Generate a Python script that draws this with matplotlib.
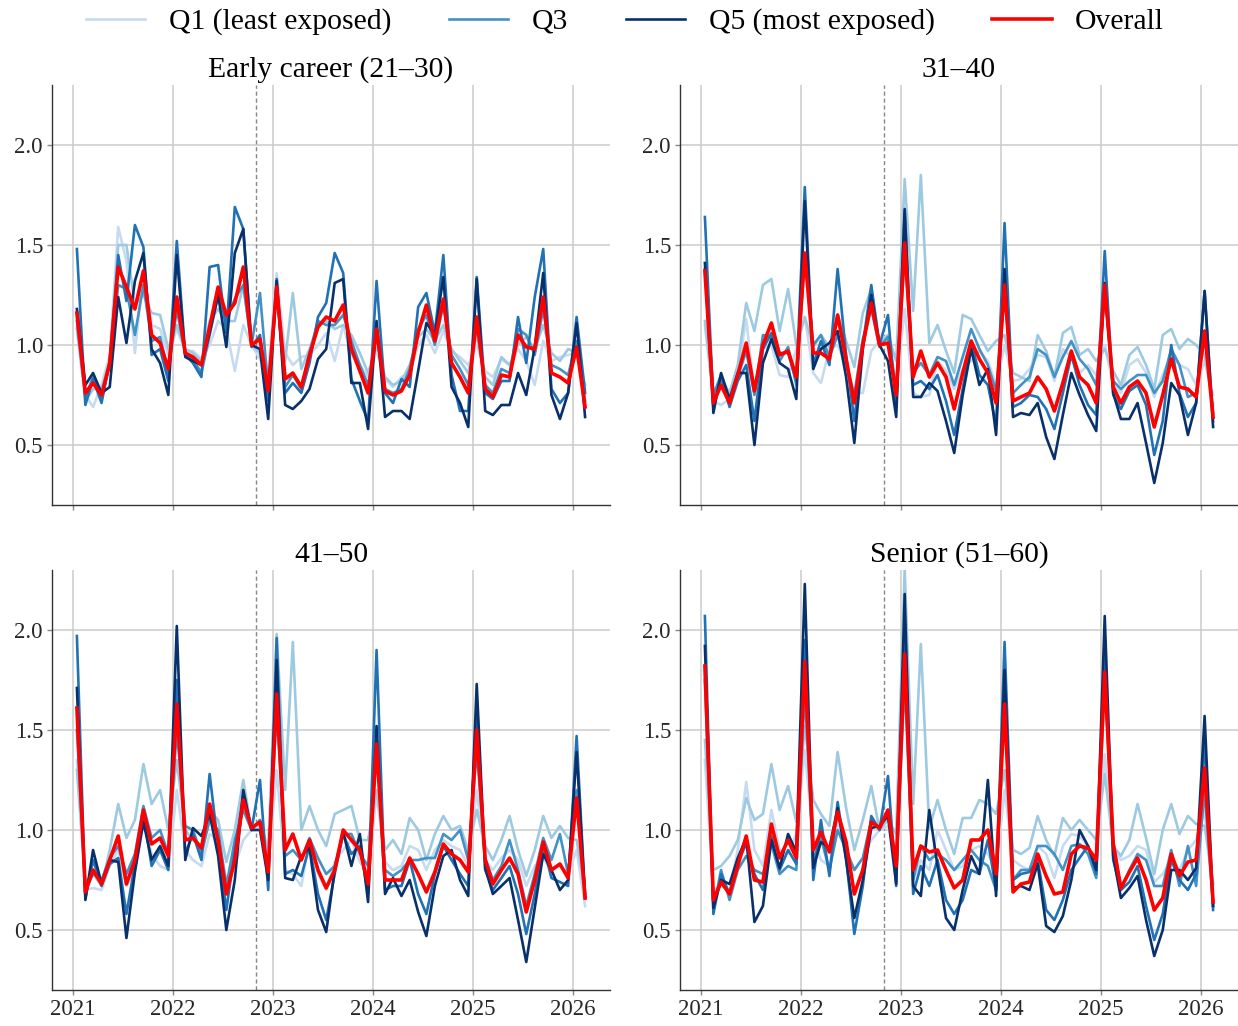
import numpy as np
import pandas as pd
import matplotlib
matplotlib.use("Agg")
import matplotlib.pyplot as plt
import matplotlib.dates as mdates

plt.rcParams['font.family'] = ['Liberation Serif', 'DejaVu Serif']

dates = pd.date_range("2021-01-01", periods=62, freq="MS") + pd.Timedelta(days=14)
chatgpt_date = pd.Timestamp("2022-11-01")

panel_titles = ["Early career (21\u201330)", "31\u201340", "41\u201350", "Senior (51\u201360)"]
quintile_labels = ["Q1 (least exposed)", "Q2", "Q3", "Q4", "Q5 (most exposed)"]
quintile_colors = ["#c6dbef", "#9ecae1", "#4292c6", "#2171b5", "#08306b"]
legend_quintiles = [0, 2, 4]

# ---------------- Panel 1: Early career (21-30) ----------------
p1_q1 = [1.09,0.75,0.69,0.80,0.95,1.59,1.42,0.96,1.38,1.10,1.08,0.95,1.08,0.97,0.97,0.93,1.00,1.12,1.08,0.87,1.10,1.00,0.93,0.86,1.36,0.96,0.90,0.94,0.95,1.00,1.06,
         0.92,1.10,0.95,0.90,0.84,0.97,0.83,0.79,0.84,0.86,1.00,1.05,0.96,1.07,0.97,0.94,0.90,1.00,0.87,0.84,0.93,0.90,0.98,0.92,0.80,1.02,0.92,0.94,0.95,0.96,0.78]
p1_q2 = [1.08,0.72,0.78,0.78,0.92,1.50,1.50,1.20,1.25,1.16,1.15,0.98,1.10,0.98,0.96,0.92,1.12,1.18,1.12,1.12,1.30,1.00,0.96,0.84,1.26,0.92,1.26,0.88,0.98,1.10,1.12,
         1.08,1.10,1.05,0.96,0.86,1.00,0.84,0.80,0.82,0.90,1.04,1.08,1.02,1.10,0.98,0.92,0.86,1.05,0.84,0.80,0.94,0.90,1.00,1.04,0.98,1.10,0.96,0.92,0.98,0.96,0.80]
p1_q3 = [1.12,0.74,0.84,0.73,0.90,1.30,1.28,1.05,1.30,1.02,1.04,0.86,1.18,0.95,0.93,0.86,1.05,1.25,1.12,1.23,1.30,1.00,1.26,0.78,1.27,0.79,0.85,0.78,0.96,1.12,1.10,
         1.10,1.15,1.02,0.90,0.80,1.05,0.78,0.76,0.78,0.88,1.08,1.15,1.00,1.20,0.95,0.88,0.80,1.10,0.80,0.76,0.88,0.86,1.08,1.05,0.95,1.18,0.90,0.88,0.85,1.02,0.72]
p1_q4 = [1.48,0.70,0.83,0.71,0.92,1.45,1.22,1.60,1.49,0.95,0.98,0.82,1.52,0.95,0.91,0.84,1.39,1.40,1.06,1.69,1.58,0.99,1.05,0.72,1.33,0.76,0.81,0.76,0.91,1.14,1.21,
         1.46,1.36,0.83,0.72,0.62,1.32,0.76,0.71,0.83,0.79,1.19,1.26,1.06,1.45,0.85,0.67,0.67,1.34,0.76,0.73,0.82,0.82,1.14,0.91,1.24,1.48,0.78,0.71,0.76,1.14,0.76]
p1_q5 = [1.18,0.80,0.86,0.76,0.79,1.24,1.01,1.32,1.46,0.98,0.91,0.75,1.45,0.94,0.92,0.90,1.06,1.25,0.99,1.46,1.58,1.00,0.98,0.63,1.32,0.70,0.68,0.72,0.78,0.93,0.98,
         1.31,1.33,0.81,0.81,0.58,1.12,0.64,0.67,0.67,0.63,0.87,1.11,1.05,1.34,0.79,0.71,0.59,1.33,0.67,0.65,0.70,0.70,0.86,0.75,0.99,1.36,0.75,0.63,0.76,1.11,0.64]
p1_all = [1.16,0.76,0.81,0.75,0.91,1.39,1.29,1.18,1.37,1.05,1.01,0.88,1.24,0.96,0.94,0.90,1.09,1.29,1.15,1.21,1.39,1.00,1.03,0.77,1.29,0.83,0.86,0.79,0.95,1.09,1.14,
          1.12,1.20,0.98,0.87,0.76,1.08,0.77,0.75,0.77,0.85,1.06,1.20,1.02,1.23,0.91,0.84,0.76,1.14,0.78,0.74,0.85,0.84,1.05,0.99,0.98,1.24,0.86,0.84,0.81,0.99,0.69]

# ---------------- Panel 2: 31-40 ----------------
p2_q1 = [1.10,0.72,0.70,0.73,0.86,1.13,0.76,0.98,1.00,0.85,0.84,0.98,1.14,0.86,0.81,0.98,1.00,0.90,0.76,0.76,0.97,1.02,1.05,0.80,1.18,0.76,0.74,0.75,0.92,0.87,0.78,
         0.88,0.92,0.97,0.92,0.80,1.00,0.82,0.83,0.88,0.95,0.94,0.82,0.98,0.94,0.86,0.90,0.85,1.00,0.80,0.76,0.90,0.93,0.86,0.74,0.85,0.95,0.90,0.88,0.80,0.92,0.75]
p2_q2 = [1.12,0.76,0.83,0.76,0.90,1.21,1.07,1.30,1.33,1.07,1.28,1.00,1.14,0.99,1.05,0.99,1.15,1.02,0.89,1.16,1.28,1.00,1.05,0.92,1.83,1.17,1.85,1.01,1.10,0.97,0.86,
         1.15,1.13,1.05,0.97,1.02,1.05,0.86,0.84,0.82,1.05,0.97,0.84,1.06,1.09,0.95,0.98,0.92,0.98,0.87,0.80,0.95,0.99,0.90,0.78,1.05,1.08,0.98,1.03,1.00,0.95,0.70]
p2_q3 = [1.38,0.75,0.85,0.72,0.84,0.97,0.75,1.05,1.04,0.92,0.99,0.80,1.44,1.00,1.05,0.94,1.05,0.90,0.75,1.03,1.18,0.99,1.04,0.78,1.45,0.86,0.91,0.85,0.94,0.92,0.80,
         0.94,1.08,0.98,0.90,0.77,1.25,0.76,0.80,0.84,0.98,0.95,0.84,0.94,1.02,0.93,0.88,0.80,1.25,0.82,0.78,0.82,0.85,0.85,0.76,0.82,0.98,0.90,0.74,0.76,1.05,0.66]
p2_q4 = [1.64,0.70,0.84,0.69,0.82,0.90,0.62,0.98,1.06,0.96,0.96,0.82,1.79,0.90,1.02,0.90,1.38,0.95,0.62,1.00,1.30,1.00,1.15,0.69,1.66,0.80,0.82,0.78,0.85,0.72,0.55,
         0.78,1.02,0.85,0.80,0.60,1.61,0.69,0.71,0.75,0.74,0.68,0.58,0.76,0.95,0.80,0.70,0.65,1.47,0.75,0.68,0.77,0.80,0.70,0.45,0.62,1.00,0.76,0.64,0.71,1.27,0.62]
p2_q5 = [1.41,0.66,0.86,0.73,0.86,0.86,0.50,0.91,1.03,0.91,0.88,0.73,1.72,0.88,0.98,1.01,1.07,0.84,0.51,0.98,1.25,1.00,0.92,0.64,1.68,0.74,0.74,0.81,0.77,0.62,0.46,
         0.75,0.98,0.80,0.88,0.55,1.38,0.64,0.66,0.65,0.71,0.54,0.43,0.65,0.86,0.75,0.65,0.57,1.31,0.76,0.63,0.63,0.71,0.51,0.31,0.51,0.81,0.75,0.55,0.71,1.27,0.59]
p2_all = [1.37,0.71,0.80,0.71,0.85,1.01,0.77,1.00,1.11,0.95,0.97,0.84,1.46,0.96,0.96,0.93,1.15,0.93,0.71,1.00,1.21,1.00,1.01,0.75,1.51,0.84,0.97,0.84,0.91,0.84,0.68,
          0.86,1.02,0.93,0.86,0.71,1.30,0.72,0.74,0.76,0.84,0.78,0.67,0.81,0.97,0.84,0.80,0.71,1.30,0.79,0.71,0.79,0.82,0.76,0.59,0.75,0.93,0.79,0.78,0.74,1.07,0.64]

# ---------------- Panel 3: 41-50 ----------------
p3_q1 = [1.35,0.70,0.71,0.70,0.82,0.90,0.72,0.80,1.05,0.88,0.82,0.80,1.20,0.90,0.85,0.82,0.98,0.95,0.75,0.82,0.95,1.00,1.02,0.82,1.30,0.80,0.78,0.72,0.95,0.78,0.70,
         0.84,0.90,0.95,0.84,0.78,1.18,0.84,0.80,0.82,0.92,0.90,0.80,0.90,0.95,0.92,0.90,0.82,1.20,0.85,0.80,0.86,0.90,0.85,0.72,0.82,0.86,0.80,0.82,0.78,0.90,0.62]
p3_q2 = [1.30,0.74,0.78,0.72,0.90,1.13,0.96,1.05,1.33,1.13,1.20,1.00,1.35,1.00,0.95,0.92,1.10,1.05,0.84,1.00,1.25,1.00,1.05,0.90,1.98,1.20,1.94,1.00,1.12,1.00,0.92,
         1.08,1.10,1.12,0.95,0.95,1.20,0.90,0.95,0.88,1.06,1.00,0.85,0.98,1.07,1.00,1.02,0.90,1.10,0.92,0.85,0.95,1.07,0.90,0.77,0.90,1.07,0.96,1.02,0.96,0.95,0.70]
p3_q3 = [1.50,0.70,0.78,0.75,0.86,0.92,0.78,0.88,1.12,0.96,1.00,0.88,1.50,1.02,1.00,0.88,1.05,1.00,0.72,0.95,1.10,1.00,1.05,0.80,1.60,0.87,0.90,0.85,0.96,0.86,0.78,
         0.82,0.98,0.98,0.88,0.82,1.40,0.80,0.77,0.80,0.85,0.85,0.86,0.86,0.98,0.95,1.00,0.85,1.40,0.86,0.75,0.82,0.95,0.80,0.62,0.78,0.96,0.85,0.98,0.78,1.20,0.68]
p3_q4 = [1.97,0.66,0.85,0.72,0.83,0.86,0.58,0.83,1.08,0.82,0.90,0.80,1.75,0.88,0.98,0.85,1.28,0.92,0.60,0.90,1.18,1.00,1.25,0.70,1.96,0.78,0.80,0.77,0.92,0.68,0.55,
         0.78,0.98,0.88,0.92,0.68,1.90,0.70,0.72,0.72,0.85,0.68,0.58,0.78,0.92,0.85,0.78,0.72,1.62,0.80,0.70,0.76,0.82,0.68,0.48,0.68,0.92,0.76,0.74,0.72,1.47,0.66]
p3_q5 = [1.71,0.65,0.90,0.73,0.85,0.84,0.46,0.79,1.04,0.85,0.92,0.82,2.02,0.85,1.01,0.97,1.08,0.87,0.50,0.75,1.20,1.00,1.00,0.75,1.85,0.76,0.75,0.87,0.91,0.60,0.49,
         0.80,0.99,0.82,0.98,0.64,1.52,0.68,0.76,0.67,0.75,0.59,0.47,0.72,0.87,0.90,0.75,0.67,1.73,0.81,0.68,0.72,0.76,0.55,0.34,0.61,0.88,0.80,0.70,0.75,1.39,0.66]
p3_all = [1.61,0.69,0.80,0.73,0.85,0.97,0.73,0.85,1.10,0.93,0.96,0.87,1.63,0.95,0.96,0.91,1.13,0.95,0.68,0.85,1.15,1.01,1.04,0.79,1.68,0.90,0.98,0.85,0.95,0.80,0.71,
          0.80,1.00,0.95,0.90,0.73,1.43,0.75,0.75,0.75,0.86,0.78,0.69,0.79,0.93,0.88,0.85,0.79,1.50,0.85,0.73,0.80,0.86,0.78,0.59,0.75,0.94,0.80,0.83,0.76,1.16,0.66]

# ---------------- Panel 4: Senior (51-60) ----------------
p4_q1 = [1.35,0.70,0.72,0.70,0.90,1.24,0.90,0.82,1.10,0.90,0.88,0.98,1.40,0.95,0.85,0.82,1.05,0.90,0.80,0.86,0.95,1.00,1.02,0.88,1.80,0.75,0.85,0.80,1.00,0.90,0.80,
         0.82,0.90,0.92,0.88,0.80,1.20,0.85,0.82,0.80,0.92,0.88,0.76,0.92,0.98,0.97,0.92,0.82,1.38,0.90,0.85,0.87,0.92,0.90,0.74,0.78,0.85,0.80,0.90,0.95,1.10,0.65]
p4_q2 = [1.45,0.80,0.82,0.87,0.95,1.16,1.05,1.08,1.33,1.10,1.22,1.04,1.52,1.15,1.08,1.02,1.39,1.11,0.90,1.05,1.22,1.00,1.05,0.98,2.30,1.13,1.93,1.01,1.15,1.00,0.88,
         1.06,1.06,1.15,1.13,1.08,1.30,0.90,0.88,0.91,1.07,0.95,0.87,1.06,1.00,1.05,1.00,0.95,1.28,0.92,0.87,0.95,1.13,0.96,0.78,1.00,1.13,0.98,1.07,1.03,1.02,0.73]
p4_q3 = [1.75,0.60,0.80,0.65,0.80,0.87,0.80,0.78,0.93,0.78,0.82,0.80,1.70,0.85,0.96,0.80,1.00,0.90,0.80,0.86,1.05,1.00,1.10,0.78,1.75,0.75,0.92,0.85,0.88,0.85,0.80,
         0.85,0.90,0.85,0.82,0.70,1.70,0.75,0.80,0.80,0.92,0.92,0.88,0.80,0.92,0.93,0.88,0.76,1.75,0.95,0.70,0.80,0.88,0.85,0.72,0.72,0.90,0.72,0.92,0.72,1.20,0.62]
p4_q4 = [2.07,0.58,0.78,0.68,0.84,0.93,0.78,0.70,0.97,0.80,0.90,0.83,1.95,0.75,1.05,0.77,1.14,0.86,0.48,0.72,1.07,1.00,1.27,0.72,1.95,0.68,0.82,0.72,0.85,0.65,0.58,
         0.65,0.80,0.78,0.95,0.70,1.94,0.75,0.78,0.79,0.85,0.60,0.55,0.65,0.80,0.86,0.92,0.78,1.92,0.85,0.70,0.74,0.82,0.62,0.45,0.58,0.85,0.75,0.70,0.78,1.45,0.60]
p4_q5 = [1.92,0.61,0.75,0.73,0.86,0.96,0.54,0.62,0.95,0.81,0.98,0.89,2.23,0.81,0.94,0.91,1.11,0.85,0.56,0.75,1.01,1.02,1.07,0.73,2.18,0.72,0.67,1.10,0.82,0.56,0.50,
         0.70,0.87,0.78,1.25,0.67,1.80,0.71,0.72,0.70,0.83,0.52,0.49,0.57,0.75,1.00,0.92,0.80,2.07,0.87,0.66,0.71,0.77,0.55,0.37,0.50,0.80,0.80,0.75,0.81,1.57,0.62]
p4_all = [1.82,0.65,0.74,0.68,0.82,0.97,0.75,0.74,1.03,0.86,0.95,0.86,1.84,0.90,0.99,0.89,1.09,0.94,0.68,0.80,1.04,1.01,1.10,0.82,1.88,0.80,0.92,0.89,0.90,0.80,0.71,
          0.75,0.95,0.95,1.00,0.78,1.63,0.69,0.73,0.74,0.88,0.77,0.68,0.69,0.88,0.92,0.91,0.85,1.79,0.93,0.71,0.79,0.86,0.75,0.60,0.66,0.88,0.77,0.84,0.85,1.31,0.64]

panels = [
    ([p1_q1, p1_q2, p1_q3, p1_q4, p1_q5], p1_all),
    ([p2_q1, p2_q2, p2_q3, p2_q4, p2_q5], p2_all),
    ([p3_q1, p3_q2, p3_q3, p3_q4, p3_q5], p3_all),
    ([p4_q1, p4_q2, p4_q3, p4_q4, p4_q5], p4_all),
]

fig = plt.figure(figsize=(12.38, 10.26), dpi=100)
W, H = 1238.0, 1026.0
boxes = [(52, 85, 610, 505), (680, 85, 1238, 505), (52, 570, 610, 990), (680, 570, 1238, 990)]
axes = []
for (x0, y0, x1, y1) in boxes:
    ax = fig.add_axes([x0 / W, 1 - y1 / H, (x1 - x0) / W, (y1 - y0) / H])
    axes.append(ax)

text_color = "#262626"
for k, ax in enumerate(axes):
    quint, overall = panels[k]
    handles = {}
    for q in range(5):
        h, = ax.plot(dates, quint[q], color=quintile_colors[q], lw=1.9, label=quintile_labels[q], zorder=2 + q * 0.1)
        handles[q] = h
    ho, = ax.plot(dates, overall, color="#ff0000", lw=2.6, label="Overall", zorder=4)
    ax.axvline(chatgpt_date, color="#888888", ls=(0, (3, 2)), lw=1.0, zorder=1)
    ax.set_ylim(0.2, 2.3)
    ax.set_xlim(pd.Timestamp("2020-10-16"), pd.Timestamp("2026-05-17"))
    ax.set_yticks([0.5, 1.0, 1.5, 2.0])
    ax.set_yticklabels(["0.5", "1.0", "1.5", "2.0"])
    ax.xaxis.set_major_locator(mdates.YearLocator())
    ax.xaxis.set_major_formatter(mdates.DateFormatter("%Y"))
    if k < 2:
        ax.tick_params(axis="x", labelbottom=False)
    ax.grid(True, color="#cccccc", lw=1.1, zorder=0)
    ax.set_axisbelow(True)
    for s in ["top", "right"]:
        ax.spines[s].set_visible(False)
    for s in ["left", "bottom"]:
        ax.spines[s].set_color("#333333")
        ax.spines[s].set_linewidth(1.0)
    ax.tick_params(axis="both", length=3.5, width=1.0, color="#888888", labelsize=16.5, labelcolor=text_color, pad=3)
    ax.set_title(panel_titles[k], fontsize=21.3, color="black", pad=6)
    if k == 0:
        leg_handles = [handles[q] for q in legend_quintiles] + [ho]
        leg_labels = [quintile_labels[q] for q in legend_quintiles] + ["Overall"]

fig.legend(leg_handles, leg_labels, loc="upper center", bbox_to_anchor=(0.505, 1.018), ncol=4,
           frameon=False, fontsize=21.3, handlelength=2.0, handletextpad=0.8, columnspacing=1.95)

fig.savefig("out.png", dpi=100)
